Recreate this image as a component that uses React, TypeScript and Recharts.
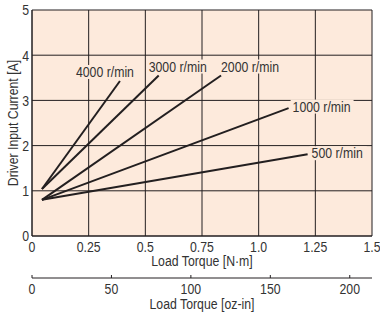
import { LineChart, Line, XAxis, YAxis, CartesianGrid, ReferenceDot, Label } from "recharts";

// axis ticks
const torqueTicks = [0, 0.25, 0.5, 0.75, 1, 1.25, 1.5];
const torqueTickLabels = ["0", "0.25", "0.5", "0.75", "1.0", "1.25", "1.5"];
const ozTicks = [0, 50, 100, 150, 200];
const currentTicks = [0, 1, 2, 3, 4, 5];

// speed curves: load torque [N·m] vs driver input current [A]
const speedNames = ["4000 r/min", "3000 r/min", "2000 r/min", "1000 r/min", "500 r/min"];
const curve4000 = [
  { torque: 0.044, current: 1.04 },
  { torque: 0.388, current: 3.43 },
];
const curve3000 = [
  { torque: 0.044, current: 1.04 },
  { torque: 0.559, current: 3.55 },
];
const curve2000 = [
  { torque: 0.044, current: 0.8 },
  { torque: 0.834, current: 3.55 },
];
const curve1000 = [
  { torque: 0.044, current: 0.8 },
  { torque: 1.132, current: 2.83 },
];
const curve500 = [
  { torque: 0.044, current: 0.8 },
  { torque: 1.216, current: 1.81 },
];
const curves = [curve4000, curve3000, curve2000, curve1000, curve500];

// the oz-in axis needs something bound to it to get a scale
const ozAxisAnchor = ozTicks.map((oz) => ({ oz, current: 0 }));

// where each speed label sits relative to the end of its curve
const labelPlacement = [
  { dx: -15, dy: -9, anchor: "middle" },
  { dx: 19, dy: -9, anchor: "middle" },
  { dx: 29, dy: -9, anchor: "middle" },
  { dx: 4, dy: -1.5, anchor: "start" },
  { dx: 4, dy: -1, anchor: "start" },
];

const FONT = "'Liberation Sans', Arial, sans-serif";
const INK = "#231f20";
const TEXT = "#333";
const PAPER = "#fdeadc";
const SQUEEZE = 0.82; // fake a narrow face

function NText(props: any) {
  const { x, y, anchor = "middle", dy, rotate, children } = props;
  let transform = `matrix(${SQUEEZE} 0 0 1 ${x * (1 - SQUEEZE)} 0)`;
  if (rotate) transform = `rotate(${rotate} ${x} ${y}) ` + transform;
  return (
    <text
      x={x}
      y={y}
      dy={dy}
      textAnchor={anchor}
      transform={transform}
      fontFamily={FONT}
      fontSize={15}
      fill={TEXT}
    >
      {children}
    </text>
  );
}

const makeTick = (format?: (v: number) => string) => (p: any) => {
  const v = p.payload.value;
  const dy = p.verticalAnchor === "start" ? "0.71em" : "0.355em";
  return (
    <NText x={p.x} y={p.y} anchor={p.textAnchor} dy={dy}>
      {format ? format(v) : String(v)}
    </NText>
  );
};

const bottomTitle = (text: string, offset: number) => (p: any) => {
  const vb = p.viewBox;
  return (
    <NText x={vb.x + vb.width / 2} y={vb.y + vb.height - offset}>
      {text}
    </NText>
  );
};

function SpeedLabel(props: any) {
  const { cx, cy, text, place } = props;
  const w = text.length * 5.9 + 4;
  const x = cx + place.dx;
  const y = cy + place.dy;
  const left = place.anchor === "start" ? x - 2 : x - w / 2;
  return (
    <g>
      <rect x={left} y={y - 7} width={w} height={14} fill={PAPER} />
      <NText x={x} y={y} anchor={place.anchor} dy="0.355em">
        {text}
      </NText>
    </g>
  );
}

export default function App() {
  return (
    <div style={{ position: "absolute", left: 0, top: 0, width: 380, height: 320, background: "#fff" }}>
      <LineChart width={380} height={320} margin={{ top: 10, right: 8, bottom: 0, left: 0 }}>
        <CartesianGrid stroke={INK} strokeWidth={1} fill={PAPER} fillOpacity={1} />
        <XAxis
          type="number"
          dataKey="torque"
          domain={[0, 1.5]}
          ticks={torqueTicks}
          interval={0}
          tickLine={false}
          tickSize={0}
          tickMargin={5}
          height={42}
          axisLine={{ stroke: INK }}
          tick={makeTick((v) => torqueTickLabels[torqueTicks.indexOf(v)])}
          allowDataOverflow
        >
          <Label content={bottomTitle("Load Torque [N·m]", 12)} />
        </XAxis>
        <XAxis
          xAxisId="oz"
          type="number"
          dataKey="oz"
          domain={[0, 214]}
          ticks={ozTicks}
          interval={0}
          tickSize={-3}
          tickMargin={8}
          height={42}
          axisLine={{ stroke: INK }}
          tickLine={{ stroke: INK }}
          tick={makeTick()}
          allowDataOverflow
        >
          <Label content={bottomTitle("Load Torque [oz-in]", 11)} />
        </XAxis>
        <YAxis
          type="number"
          domain={[0, 5]}
          ticks={currentTicks}
          interval={0}
          width={32}
          tickLine={false}
          tickSize={0}
          tickMargin={3}
          axisLine={{ stroke: INK }}
          tick={makeTick()}
        >
          <Label
            content={(p: any) => {
              const vb = p.viewBox || { x: 0, y: 10, width: 32, height: 226 };
              const x = vb.x + 12.5;
              const y = vb.y + vb.height / 2;
              return (
                <NText x={x} y={y} rotate={-90} dy="0.355em">
                  Driver Input Current [A]
                </NText>
              );
            }}
          />
        </YAxis>
        <Line
          xAxisId="oz"
          data={ozAxisAnchor}
          dataKey="current"
          stroke="none"
          dot={false}
          activeDot={false}
          isAnimationActive={false}
        />
        {curves.map((c, i) => (
          <Line
            key={speedNames[i]}
            data={c}
            dataKey="current"
            type="linear"
            stroke={INK}
            strokeWidth={2}
            dot={false}
            isAnimationActive={false}
          />
        ))}
        {curves.map((c, i) => (
          <ReferenceDot
            key={"lbl" + i}
            x={c[c.length - 1].torque}
            y={c[c.length - 1].current}
            r={0}
            ifOverflow="visible"
            shape={(p: any) => <SpeedLabel cx={p.cx} cy={p.cy} text={speedNames[i]} place={labelPlacement[i]} />}
          />
        ))}
      </LineChart>
    </div>
  );
}
